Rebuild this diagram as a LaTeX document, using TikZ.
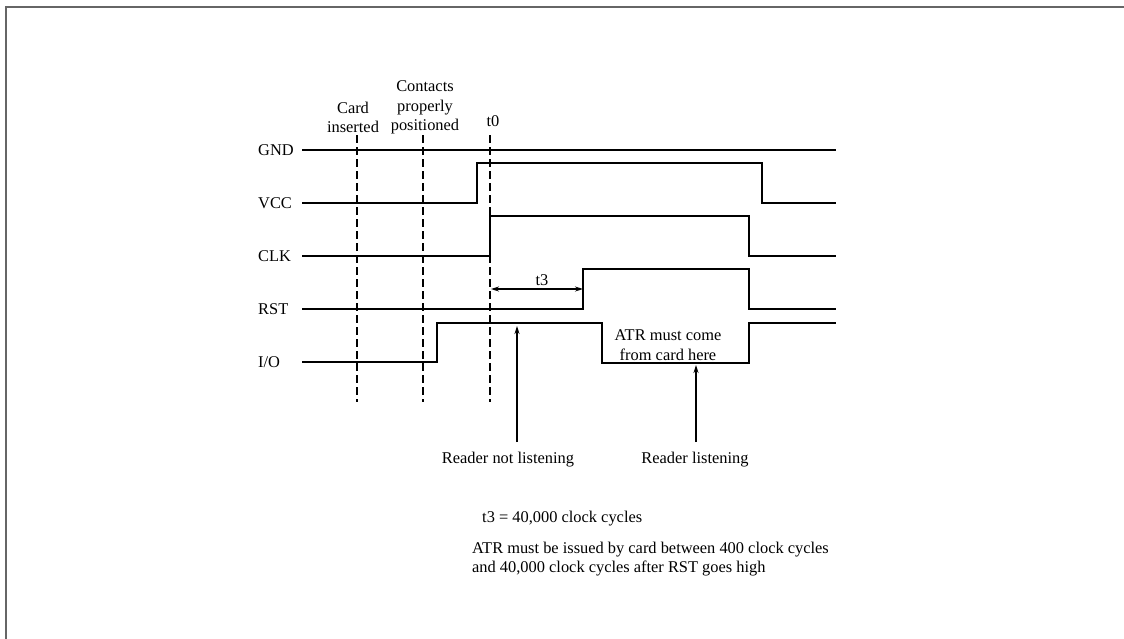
\documentclass[tikz,border=0pt]{standalone}
\usepackage{fontspec}
\setmainfont{Liberation Serif}
\usetikzlibrary{arrows.meta}

\begin{document}
\begin{tikzpicture}[>={Stealth[length=8pt,width=5pt]},x=1pt,y=-1pt,font=\fontsize{16.4}{19.5}\selectfont]
\tikzstyle{sig}=[line width=1.3pt,line join=miter]
\tikzstyle{evline}=[line width=1.1pt,dash pattern=on 8pt off 4pt]
\tikzstyle{lbl}=[inner sep=0pt,anchor=west]
\tikzstyle{txt}=[inner sep=0pt,align=center]
\useasboundingbox (0,0) rectangle (1124,638);
\draw[line width=1.5pt,black!60] (1130,7) -- (6,7) -- (6,645);
% signal names
\node[lbl] (gnd) at (258,150) {GND};
\node[lbl] (vcc) at (258,203) {VCC};
\node[lbl] (clk) at (258,256) {CLK};
\node[lbl] (rst) at (258,309) {RST};
\node[lbl] (io) at (258,362) {I/O};
% events
\node[txt] (card) at (353,117.5) {Card\\inserted};
\node[txt] (cont) at (425,107.5) {Contacts\\properly\\positioned};
\node[txt] (tzero) at (493,121) {t0};
\foreach \x in {357,423,490} \draw[evline] (\x,135) -- (\x,402);
% waveforms
\draw[sig] (302,150) -- (836,150);
\draw[sig] (302,203) -- (477,203) -- (477,163) -- (762,163) -- (762,203) -- (836,203);
\draw[sig] (302,256) -- (490,256) -- (490,216) -- (749,216) -- (749,256) -- (836,256);
\draw[sig] (302,309) -- (583,309) -- (583,269) -- (749,269) -- (749,309) -- (836,309);
\draw[sig] (302,362) -- (437,362) -- (437,323) -- (602,323) -- (602,363) -- (749,363) -- (749,323) -- (836,323);
% t3 interval
\coordinate (t3a) at (491,289);
\coordinate (t3b) at (583,289);
\draw[<->,line width=1.1pt] (t3a) -- (t3b);
\node[txt] (tthree) at (542,280) {t3};
\node[txt] (atr) at (668,345) {ATR must come\\from card here};
% reader state
\node[txt,anchor=north] (rnl) at (508,452) {Reader not listening};
\node[txt,anchor=north] (rl) at (695,452) {Reader listening};
\coordinate (rnlp) at (517,326);
\coordinate (rlp) at (696,365);
\draw[->,line width=1.1pt] (rnl.north -| rnlp) ++(0,-10) -- (rnlp);
\draw[->,line width=1.1pt] (rl.north -| rlp) ++(0,-10) -- (rlp);
% notes
\node[lbl] (note1) at (482,519) {t3 = 40,000 clock cycles};
\node[lbl,align=left] (note2) at (472,559) {ATR must be issued by card between 400 clock cycles\\and 40,000 clock cycles after RST goes high};
\end{tikzpicture}
\end{document}
